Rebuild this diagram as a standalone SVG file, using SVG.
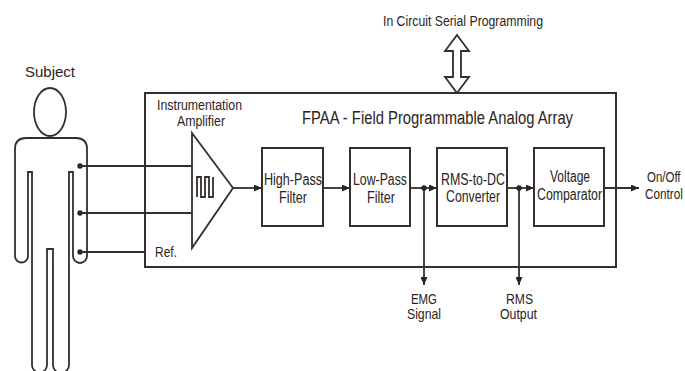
<svg xmlns="http://www.w3.org/2000/svg" width="685" height="371" viewBox="0 0 685 371">
  <style>
    .ln { fill: none; stroke: #352e29; stroke-width: 1.8; }
    .box { fill: #ffffff; stroke: #352e29; stroke-width: 2; }
    .t { font-family: "Liberation Sans", Arial, sans-serif; font-size: 15.5px; fill: #2a2420; }
    .ts { font-family: "Liberation Sans", Arial, sans-serif; font-size: 14.5px; fill: #2a2420; }
    .tb { font-family: "Liberation Sans", Arial, sans-serif; font-size: 16px; fill: #2a2420; }
    .dot { fill: #2a2420; }
  </style>
  <defs>
    <marker id="arr" markerUnits="userSpaceOnUse" markerWidth="8" markerHeight="7" refX="8" refY="3.5" orient="auto">
      <path d="M0,0 L8,3.5 L0,7 Z" fill="#2a2420"/>
    </marker>
  </defs>

  <rect width="685" height="371" fill="#ffffff"/>

  <!-- person with electrodes -->
  <g id="subject">
    <text class="t" x="25" y="77" textLength="50" lengthAdjust="spacingAndGlyphs">Subject</text>
    <ellipse class="ln" cx="50" cy="112" rx="16" ry="24"/>
    <path class="ln" d="M50,138 H26 Q15,138 15,149 V256 A6.5,6.5 0 0 0 28,256 V172 H32 V365 A7.5,7.5 0 0 0 47,365 V249 H53 V365 A8,8 0 0 0 69,365 V172 H73 V256 A7,7 0 0 0 87,256 V149 Q87,138 76,138 Z"/>
    <circle class="dot" cx="80" cy="166" r="2.7"/>
    <circle class="dot" cx="80" cy="213" r="2.7"/>
    <circle class="dot" cx="80" cy="252" r="2.7"/>
  </g>

  <!-- programming port -->
  <g id="icsp">
    <text class="t" x="383" y="26" textLength="160" lengthAdjust="spacingAndGlyphs">In Circuit Serial Programming</text>
    <polygon class="ln" fill="#ffffff" points="457,35 469,51 461,51 461,77 469,77 457,93 445,77 453,77 453,51 445,51 457,35"/>
  </g>

  <!-- FPAA frame -->
  <g id="fpaa">
    <rect class="box" x="145" y="93" width="471" height="174"/>
    <text x="302" y="124" font-family="Liberation Sans, Arial, sans-serif" font-size="18" fill="#2a2420" textLength="271" lengthAdjust="spacingAndGlyphs">FPAA - Field Programmable Analog Array</text>
    <text class="t" x="155" y="257" textLength="22" lengthAdjust="spacingAndGlyphs">Ref.</text>
  </g>

  <!-- instrumentation amplifier -->
  <g id="amplifier">
    <text class="t" x="157" y="110" textLength="85" lengthAdjust="spacingAndGlyphs">Instrumentation</text>
    <text class="t" x="177" y="126" textLength="48" lengthAdjust="spacingAndGlyphs">Amplifier</text>
    <polygon class="ln" points="192,133 233,188 192,248"/>
    <path class="ln" stroke-width="1.4" d="M197,197 V177 H201 V197 H205 V177 H209 V197 H213 V177"/>
  </g>

  <g id="highpass">
    <rect class="box" x="262" y="148" width="61" height="78"/>
    <text class="tb" x="264" y="185" textLength="58" lengthAdjust="spacingAndGlyphs">High-Pass</text>
    <text class="tb" x="279" y="203" textLength="28" lengthAdjust="spacingAndGlyphs">Filter</text>
  </g>

  <g id="lowpass">
    <rect class="box" x="350" y="148" width="60" height="78"/>
    <text class="tb" x="353" y="185" textLength="54" lengthAdjust="spacingAndGlyphs">Low-Pass</text>
    <text class="tb" x="367" y="203" textLength="28" lengthAdjust="spacingAndGlyphs">Filter</text>
  </g>

  <g id="rmsdc">
    <rect class="box" x="437" y="148" width="70" height="78"/>
    <text class="tb" x="441" y="185" textLength="64" lengthAdjust="spacingAndGlyphs">RMS-to-DC</text>
    <text class="tb" x="446" y="202" textLength="54" lengthAdjust="spacingAndGlyphs">Converter</text>
  </g>

  <g id="comparator">
    <rect class="box" x="534" y="148" width="70" height="78"/>
    <text class="tb" x="550" y="182" textLength="40" lengthAdjust="spacingAndGlyphs">Voltage</text>
    <text class="tb" x="537" y="200" textLength="65" lengthAdjust="spacingAndGlyphs">Comparator</text>
  </g>

  <g id="outputs">
    <text class="t" transform="translate(647,182) scale(0.74,1)">On/Off</text>
    <text class="t" transform="translate(645,199) scale(0.76,1)">Control</text>
    <text class="ts" x="411" y="304" textLength="26" lengthAdjust="spacingAndGlyphs">EMG</text>
    <text class="ts" x="407" y="319" textLength="34" lengthAdjust="spacingAndGlyphs">Signal</text>
    <text class="ts" x="506" y="304" textLength="27" lengthAdjust="spacingAndGlyphs">RMS</text>
    <text class="ts" x="500" y="319" textLength="37" lengthAdjust="spacingAndGlyphs">Output</text>
  </g>

  <!-- signal connections -->
  <g id="connectors">
    <line class="ln" x1="80" y1="166" x2="192" y2="166"/>
    <line class="ln" x1="80" y1="213" x2="192" y2="213"/>
    <line class="ln" x1="80" y1="252" x2="145" y2="252"/>
    <line class="ln" x1="233" y1="188" x2="262" y2="188" marker-end="url(#arr)"/>
    <line class="ln" x1="323" y1="188" x2="350" y2="188" marker-end="url(#arr)"/>
    <line class="ln" x1="410" y1="188" x2="437" y2="188" marker-end="url(#arr)"/>
    <line class="ln" x1="507" y1="188" x2="534" y2="188" marker-end="url(#arr)"/>
    <line class="ln" x1="604" y1="188" x2="639" y2="188" marker-end="url(#arr)"/>
    <line class="ln" x1="424" y1="188" x2="424" y2="285" marker-end="url(#arr)"/>
    <line class="ln" x1="519" y1="188" x2="519" y2="285" marker-end="url(#arr)"/>
    <circle class="dot" cx="424" cy="188" r="2.7"/>
    <circle class="dot" cx="519" cy="188" r="2.7"/>
  </g>
</svg>
